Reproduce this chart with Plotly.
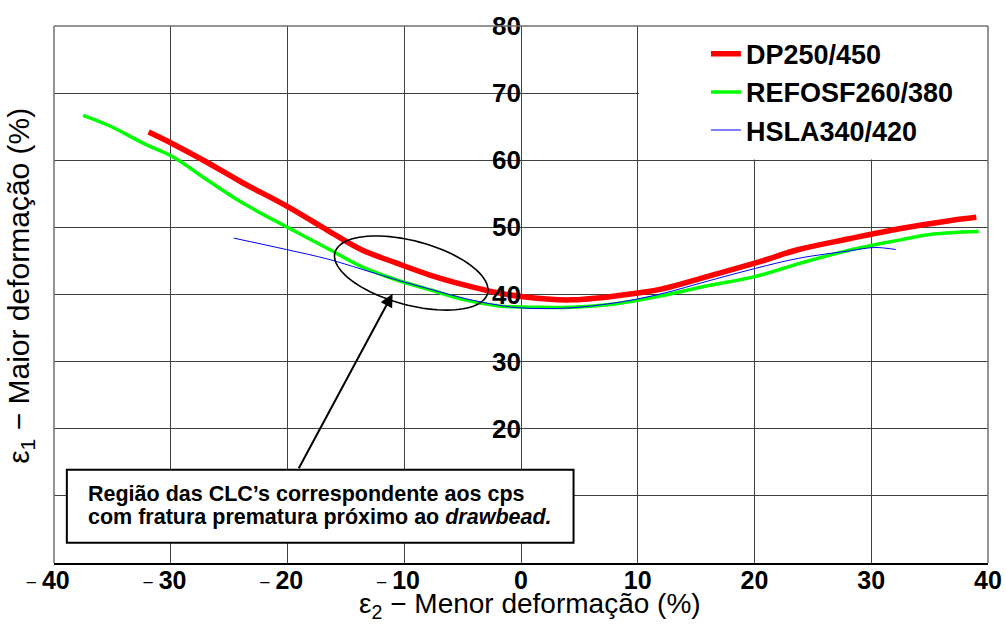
import numpy as np
import plotly.graph_objects as go

# Curvas limite de conformação (CLC): menor deformação e2 (%) x maior deformação e1 (%)
dp_x = [-31.9, -29.9, -26.9, -24.0, -20.1, -16.6, -13.7, -10.7, -7.8, -4.8, -2.7, 0.0,
        4.2, 8.6, 12.0, 16.0, 20.1, 23.8, 28.1, 32.4, 36.7, 39.0]
dp_y = [64.2, 62.5, 59.7, 56.8, 53.2, 49.6, 46.7, 44.7, 42.9, 41.4, 40.5, 39.7,
        39.2, 39.9, 40.8, 42.7, 44.7, 46.7, 48.3, 49.8, 51.0, 51.5]

refosf_x = [-37.5, -35.2, -32.2, -29.9, -26.9, -24.0, -20.1, -16.6, -13.7, -10.7, -7.8, -4.8,
            -1.9, 1.4, 4.2, 8.0, 12.0, 16.0, 20.1, 23.8, 28.1, 32.4, 35.3, 39.2]
refosf_y = [66.7, 65.1, 62.4, 60.6, 57.1, 53.8, 50.1, 46.9, 44.2, 42.2, 40.7, 39.2,
            38.3, 38.1, 38.1, 38.6, 39.8, 41.3, 42.7, 44.6, 46.6, 48.1, 49.0, 49.4]

hsla_x = [-24.6, -20.1, -16.6, -13.7, -10.7, -7.8, -4.8, -1.9, 0.0, 4.2, 8.6, 12.0,
          16.0, 20.1, 23.8, 28.1, 30.3, 32.1]
hsla_y = [48.4, 46.7, 45.3, 43.8, 42.2, 40.8, 39.4, 38.4, 38.0, 38.0, 38.9, 40.1,
          42.0, 43.9, 45.4, 46.5, 47.0, 46.7]

x_ticks = [-40, -30, -20, -10, 0, 10, 20, 30, 40]
y_ticks = [0, 10, 20, 30, 40, 50, 60, 70, 80]
y_labels = ["", "", "20", "30", "40", "50", "60", "70", "80"]

FONT = "Liberation Sans, Arial, sans-serif"
GRID = "#404040"
FRAME = "#707070"

W, H = 1006, 624
M_L, M_R, M_T, M_B = 54, 18, 26, 61
X_RANGE = [-40, 40]
Y_RANGE = [0, 80]
px_x = (W - M_L - M_R) / (X_RANGE[1] - X_RANGE[0])
px_y = (H - M_T - M_B) / (Y_RANGE[1] - Y_RANGE[0])


def x_label(v):
    digits = "<b>%d</b>" % abs(v)
    if v < 0:
        return "<span style='font-size:19px'>\u2212</span>\u2009" + digits + "\u2002"
    return digits


fig = go.Figure()

fig.add_trace(go.Scatter(
    x=refosf_x, y=refosf_y, mode="lines", name="REFOSF260/380",
    line=dict(color="#00ff00", width=3.5, shape="spline"), legendrank=2))
fig.add_trace(go.Scatter(
    x=dp_x, y=dp_y, mode="lines", name="DP250/450",
    line=dict(color="#ff0000", width=5.5, shape="spline"), legendrank=1))
fig.add_trace(go.Scatter(
    x=hsla_x, y=hsla_y, mode="lines", name="HSLA340/420",
    line=dict(color="#0000ff", width=1, shape="spline"), legendrank=3))

# tilted ellipse marking the region of premature fracture
ell_cx, ell_cy = -9.4, 43.2
ell_a, ell_b, ell_tilt = 79, 32, np.radians(15)
t = np.linspace(0, 2 * np.pi, 97)
dx = ell_a * np.cos(t) * np.cos(ell_tilt) - ell_b * np.sin(t) * np.sin(ell_tilt)
dy = ell_a * np.cos(t) * np.sin(ell_tilt) + ell_b * np.sin(t) * np.cos(ell_tilt)
ex = ell_cx + dx / px_x
ey = ell_cy - dy / px_y
ell_path = "M " + " L ".join("%.3f,%.3f" % (a, b) for a, b in zip(ex, ey)) + " Z"

shapes = [
    # white area behind the legend
    dict(type="rect", xref="x", yref="y", x0=10.1, x1=40, y0=60.1, y1=80,
         fillcolor="white", line=dict(width=0), layer="between"),
    # note box
    dict(type="rect", xref="x", yref="y", x0=-38.9, x1=4.5, y0=3.0, y1=13.9,
         fillcolor="white", line=dict(color="black", width=2), layer="between"),
    dict(type="path", xref="x", yref="y", path=ell_path,
         line=dict(color="black", width=1.6)),
    # frame
    dict(type="line", xref="paper", yref="paper", x0=0, x1=0, y0=0, y1=1,
         line=dict(color=FRAME, width=1.5)),
    dict(type="line", xref="paper", yref="paper", x0=0, x1=1, y0=1, y1=1,
         line=dict(color=FRAME, width=1.5)),
    dict(type="line", xref="paper", yref="paper", x0=1, x1=1, y0=0, y1=1,
         line=dict(color=FRAME, width=1.5)),
]

annotations = [
    # axis titles
    dict(text="\u03b5<sub>1</sub> \u2212 Maior deformação (%)", textangle=-90,
         xref="paper", yref="paper", x=-0.0355, y=0.516, xanchor="center", yanchor="middle",
         showarrow=False, font=dict(family=FONT, size=30, color="black")),
    dict(text="\u03b5<sub>2</sub> \u2212 Menor deformação (%)",
         xref="paper", yref="paper", x=0.51, y=-0.08, xanchor="center", yanchor="middle",
         showarrow=False, font=dict(family=FONT, size=28, color="black")),
    # note text
    dict(text="<b>Região das CLC\u2019s correspondente aos cps</b>",
         xref="x", yref="y", x=-37.3, y=10.3, xanchor="left", yanchor="middle",
         showarrow=False, font=dict(family=FONT, size=21.5, color="black")),
    dict(text="<b>com fratura prematura próximo ao <i>drawbead.</i></b>",
         xref="x", yref="y", x=-37.3, y=6.85, xanchor="left", yanchor="middle",
         showarrow=False, font=dict(family=FONT, size=21.5, color="black")),
    dict(text="", xref="x", yref="y", x=-11.0, y=40.1,
         axref="x", ayref="y", ax=-19.1, ay=13.9,
         showarrow=True, arrowhead=2, arrowsize=1.3, arrowwidth=2, arrowcolor="black"),
]

fig.update_layout(
    width=W, height=H,
    margin=dict(l=M_L, r=M_R, t=M_T, b=M_B, autoexpand=False),
    paper_bgcolor="white", plot_bgcolor="white",
    font=dict(family=FONT, color="black"),
    showlegend=True,
    legend=dict(x=0.698, y=0.993, xanchor="left", yanchor="top",
                bgcolor="rgba(0,0,0,0)", borderwidth=0, tracegroupgap=0,
                font=dict(family=FONT, size=27, color="black", weight="bold")),
    xaxis=dict(range=X_RANGE, tickvals=x_ticks, ticktext=[x_label(v) for v in x_ticks],
               automargin=False, ticklabelstandoff=-6,
               showgrid=True, gridcolor=GRID, gridwidth=1, zeroline=False,
               showline=True, linecolor="black", linewidth=2, ticks="",
               tickfont=dict(family=FONT, size=25, color="black")),
    yaxis=dict(range=Y_RANGE, tickvals=y_ticks, ticktext=y_labels,
               automargin=False,
               anchor="free", position=0.5, showline=False,
               showgrid=True, gridcolor=GRID, gridwidth=1, zeroline=False, ticks="",
               ticklabelstandoff=0,
               tickfont=dict(family=FONT, size=26, color="black", weight="bold")),
    shapes=shapes,
    annotations=annotations,
)

fig.write_html("out.html")
